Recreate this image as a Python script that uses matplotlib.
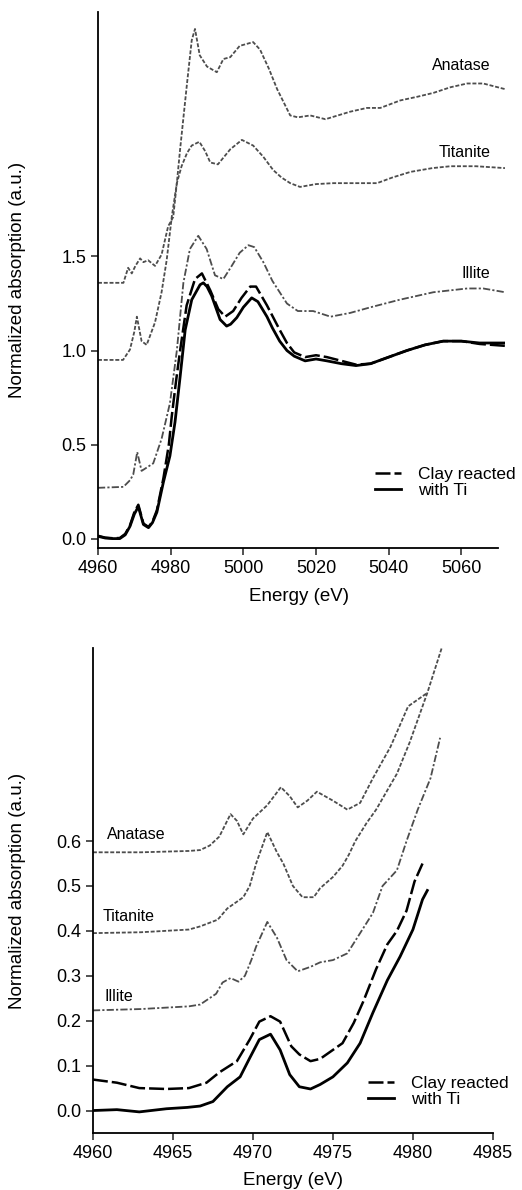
# -*- coding: utf-8 -*-
"""
Ti K-edge XANES: clay reacted with Ti vs reference minerals
(top: full range, bottom: pre-edge zoom)
"""
import matplotlib
matplotlib.use('Agg')
import matplotlib.pyplot as plt
from matplotlib.lines import Line2D

plt.rcParams['font.family'] = ['Liberation Sans', 'DejaVu Sans']

#%% datos - panel superior (rango completo)
e_ana_full = [4960, 4967, 4968.3, 4969.3, 4970.3, 4971.6, 4972.5, 4973.8, 4975.7, 4977.5,
              4979.3, 4980.7, 4981.7, 4982.6, 4984.5, 4985.8, 4986.7, 4988, 4990, 4992.7, 4994.5,
              4996.4, 4999, 5002.7, 5004.6, 5007, 5009.3, 5012.9, 5015, 5018.4, 5022.6, 5026,
              5029.4, 5034, 5037.7, 5043.2, 5048, 5052.3, 5057, 5061.6, 5066, 5072]
a_ana_full = [1.36, 1.36, 1.44, 1.41, 1.45, 1.49, 1.47, 1.48, 1.45, 1.51,
              1.66, 1.71, 1.89, 2.07, 2.42, 2.65, 2.71, 2.57, 2.51, 2.48, 2.55,
              2.56, 2.62, 2.64, 2.60, 2.50, 2.39, 2.25, 2.24, 2.25, 2.23, 2.25,
              2.27, 2.29, 2.29, 2.33, 2.35, 2.37, 2.40, 2.42, 2.42, 2.39]

e_tit_full = [4960, 4966.9, 4968.8, 4970, 4970.7, 4971.3, 4972, 4973.4, 4975.7, 4977.5, 4978.9,
              4980.3, 4981.7, 4983, 4984.5, 4985.8, 4987.9, 4989.5, 4990.9, 4993, 4996.4, 4999.6,
              5002.7, 5005.5, 5008.2, 5010.5, 5012.9, 5015.6, 5020, 5024.8, 5030, 5036.8,
              5041, 5046, 5052, 5057, 5064, 5072]
a_tit_full = [0.95, 0.95, 1.005, 1.10, 1.18, 1.12, 1.05, 1.03, 1.15, 1.31, 1.48,
              1.71, 1.89, 1.98, 2.05, 2.09, 2.11, 2.06, 2.00, 1.99, 2.07, 2.12,
              2.09, 2.03, 1.96, 1.92, 1.89, 1.87, 1.885, 1.89, 1.89, 1.89,
              1.92, 1.95, 1.97, 1.98, 1.98, 1.97]

e_ill_full = [4960, 4967, 4968.8, 4969.7, 4970.8, 4972, 4975.2, 4977.5, 4979.8, 4981.7, 4983.5,
              4985.3, 4987.6, 4989.9, 4992.2, 4994.5, 4996.8, 4999, 5001.4, 5003, 5005.5,
              5008, 5010, 5012, 5015, 5019.2, 5024, 5029.4, 5035, 5043, 5052.3, 5061.6,
              5066, 5072]
a_ill_full = [0.27, 0.275, 0.31, 0.34, 0.46, 0.36, 0.40, 0.53, 0.72, 1.00, 1.36,
              1.54, 1.61, 1.54, 1.40, 1.38, 1.45, 1.52, 1.56, 1.55, 1.47,
              1.37, 1.31, 1.25, 1.21, 1.21, 1.18, 1.20, 1.23, 1.27, 1.31, 1.33,
              1.33, 1.31]

e_clay_dash_full = [4960, 4962, 4964, 4966, 4967.5, 4968.8, 4970, 4971.1, 4972.5, 4973.9, 4975,
                    4976.2, 4978, 4979.5, 4980.3, 4981.5, 4982.6, 4984.4, 4986.7, 4988.6, 4990.9,
                    4993.1, 4995, 4997.2, 4999.5, 5001.9, 5003.5, 5006.5, 5010, 5012, 5014,
                    5017, 5020, 5023, 5027, 5031, 5035, 5040, 5045, 5050, 5055, 5060, 5065, 5072]
a_clay_dash_full = [0.015, 0.005, 0.002, 0.003, 0.025, 0.07, 0.14, 0.18, 0.08, 0.062, 0.09,
                    0.15, 0.32, 0.50, 0.65, 0.84, 1.0, 1.24, 1.38, 1.41, 1.32,
                    1.22, 1.18, 1.21, 1.28, 1.34, 1.34, 1.24, 1.11, 1.04, 0.99,
                    0.965, 0.975, 0.965, 0.945, 0.925, 0.93, 0.965, 1.0, 1.03, 1.05, 1.05, 1.035, 1.025]

e_clay_solid_full = [4960, 4962, 4964, 4966, 4967.5, 4968.8, 4970, 4971.1, 4972.5, 4973.9, 4975,
                     4976.2, 4978, 4979.8, 4981.2, 4982.6, 4984, 4985.8, 4988.1, 4989, 4990,
                     4991.3, 4993.6, 4995.4, 4996.5, 4998.2, 5000, 5002.3, 5004, 5006.5, 5008,
                     5010, 5012, 5014, 5017, 5020, 5023, 5027, 5031, 5035, 5040, 5045, 5050,
                     5055, 5060, 5065, 5072]
a_clay_solid_full = [0.012, 0.003, 0.0, 0.0, 0.02, 0.065, 0.13, 0.17, 0.075, 0.058, 0.085,
                     0.14, 0.30, 0.44, 0.62, 0.86, 1.11, 1.27, 1.35, 1.36, 1.34,
                     1.29, 1.165, 1.13, 1.14, 1.175, 1.23, 1.28, 1.26, 1.18, 1.12,
                     1.05, 1.0, 0.97, 0.945, 0.955, 0.945, 0.93, 0.92, 0.93, 0.965, 1.0, 1.03,
                     1.05, 1.05, 1.04, 1.04]

#%% datos - panel inferior (pre-borde)
e_ana_pre = [4960, 4963, 4966, 4966.7, 4967.3, 4967.9, 4968.6, 4969.0, 4969.4, 4970, 4970.9,
             4971.75, 4972.3, 4972.8, 4973.4, 4974, 4975, 4975.9, 4976.7, 4977.5, 4978.6,
             4979.7, 4980.9]
a_ana_pre = [0.575, 0.575, 0.578, 0.58, 0.59, 0.61, 0.66, 0.645, 0.615, 0.65, 0.68,
             0.72, 0.70, 0.675, 0.69, 0.71, 0.69, 0.67, 0.685, 0.74, 0.81,
             0.90, 0.93]

e_tit_pre = [4960, 4963, 4966, 4966.7, 4967.8, 4968.4, 4969.4, 4969.8, 4970.2, 4970.9, 4971.5,
             4971.9, 4972.5, 4973.1, 4973.8, 4974.2, 4975, 4975.6, 4976, 4976.4, 4977.1,
             4977.7, 4979, 4979.8, 4980.9, 4981.8]
a_tit_pre = [0.395, 0.397, 0.403, 0.41, 0.425, 0.45, 0.475, 0.50, 0.55, 0.62, 0.575,
             0.55, 0.50, 0.475, 0.475, 0.495, 0.52, 0.545, 0.57, 0.60, 0.64,
             0.67, 0.75, 0.82, 0.93, 1.03]

e_ill_pre = [4960, 4963, 4966, 4966.7, 4967.7, 4968.1, 4968.6, 4969.1, 4969.5, 4969.9, 4970.2,
             4970.9, 4971.5, 4972.1, 4972.8, 4973.6, 4974.2, 4975, 4975.9, 4976.7, 4977.5,
             4978.1, 4979, 4979.6, 4980.3, 4981.1, 4981.7]
a_ill_pre = [0.223, 0.226, 0.232, 0.236, 0.26, 0.285, 0.295, 0.287, 0.30, 0.335, 0.365,
             0.42, 0.385, 0.335, 0.31, 0.32, 0.33, 0.335, 0.35, 0.395, 0.44,
             0.50, 0.535, 0.60, 0.67, 0.74, 0.83]

e_clay_dash_pre = [4960, 4961.5, 4962.9, 4964.6, 4966, 4967.1, 4967.9, 4969, 4969.8, 4970.4,
                   4971.1, 4971.7, 4972.4, 4972.9, 4973.6, 4974.2, 4975, 4975.6, 4976.3,
                   4976.9, 4977.7, 4978.4, 4979, 4979.6, 4980.1, 4980.6]
a_clay_dash_pre = [0.069, 0.062, 0.05, 0.048, 0.05, 0.062, 0.085, 0.11, 0.158, 0.198,
                   0.21, 0.198, 0.143, 0.125, 0.11, 0.115, 0.135, 0.15, 0.195,
                   0.243, 0.315, 0.37, 0.40, 0.445, 0.51, 0.55]

e_clay_solid_pre = [4960, 4961.5, 4962.9, 4964.6, 4965.9, 4966.7, 4967.5, 4968.4, 4969.2,
                    4969.8, 4970.4, 4971.1, 4971.7, 4972.3, 4972.9, 4973.6, 4974.2, 4975,
                    4975.9, 4976.7, 4977.5, 4978.4, 4979.2, 4980, 4980.6, 4980.9]
a_clay_solid_pre = [0.0, 0.002, -0.003, 0.004, 0.007, 0.01, 0.02, 0.053, 0.075,
                    0.117, 0.158, 0.17, 0.135, 0.08, 0.053, 0.048, 0.058, 0.075,
                    0.106, 0.15, 0.218, 0.29, 0.343, 0.403, 0.47, 0.49]

leg_labels = ['Clay reacted', 'with Ti']

#%% estilos
gris = '#4d4d4d'
st_ref = dict(color=gris, lw=1.3, dashes=(2.2, 1.0))            #Anatase / Titanite
st_ill = dict(color=gris, lw=1.3, dashes=(4, 1.2, 1.2, 1.2))    #Illite
st_dash = dict(color='black', lw=1.8, dashes=(6, 1.6))         #Clay reacted (discontinua)
st_solid = dict(color='black', lw=2.0)                         #with Ti (continua)

fs_tick = 13
fs_lab = 13.5
fs_txt = 11.5


def estilo_ejes(ax):
    ax.spines['top'].set_visible(False)
    ax.spines['right'].set_visible(False)
    ax.spines['left'].set_linewidth(1.3)
    ax.spines['bottom'].set_linewidth(1.3)
    ax.tick_params(direction='out', length=5, width=1.1, labelsize=fs_tick, color='#222222')


def leyenda(ax, x, y):
    h = [Line2D([], [], **st_dash), Line2D([], [], **st_solid)]
    ax.legend(h, leg_labels, loc='upper left', bbox_to_anchor=(x, y), frameon=False,
              fontsize=12.5, handlelength=1.5, handletextpad=1.0, labelspacing=0.05,
              borderpad=0, borderaxespad=0)


fig = plt.figure(figsize=(5.22, 11.9), dpi=100)

#%% panel superior
ax1 = fig.add_axes([0.1877, 0.5395, 0.7797, 0.4504])
ax1.plot(e_ana_full, a_ana_full, **st_ref)
ax1.plot(e_tit_full, a_tit_full, **st_ref)
ax1.plot(e_ill_full, a_ill_full, **st_ill)
ax1.plot(e_clay_dash_full, a_clay_dash_full, **st_dash)
ax1.plot(e_clay_solid_full, a_clay_solid_full, **st_solid)

ax1.set_xlim(4960, 5072)
ax1.set_ylim(-0.05, 2.8)
ax1.set_xticks([4960, 4980, 5000, 5020, 5040, 5060])
ax1.set_yticks([0.0, 0.5, 1.0, 1.5])
ax1.set_yticklabels(['0.0', '0.5', '1.0', '1.5'])
estilo_ejes(ax1)
ax1.spines['bottom'].set_bounds(4960, 5070)

ax1.text(5068, 2.516, 'Anatase', ha='right', va='center', fontsize=fs_txt)
ax1.text(5068, 2.053, 'Titanite', ha='right', va='center', fontsize=fs_txt)
ax1.text(5068, 1.41, 'Illite', ha='right', va='center', fontsize=fs_txt)

ax1.set_xlabel('Energy (eV)', fontsize=fs_lab)
ax1.set_ylabel('Normalized absorption (a.u.)', fontsize=fs_lab)
ax1.xaxis.set_label_coords(0.493, -0.075)
ax1.yaxis.set_label_coords(-0.177, 0.5)
leyenda(ax1, 0.68, 0.151)

#%% panel inferior
ax2 = fig.add_axes([0.178, 0.0479, 0.7663, 0.4076])
ax2.plot(e_ana_pre, a_ana_pre, **st_ref)
ax2.plot(e_tit_pre, a_tit_pre, **st_ref)
ax2.plot(e_ill_pre, a_ill_pre, **st_ill)
ax2.plot(e_clay_dash_pre, a_clay_dash_pre, **st_dash)
ax2.plot(e_clay_solid_pre, a_clay_solid_pre, **st_solid)

ax2.set_xlim(4960, 4985)
ax2.set_ylim(-0.05, 1.03)
ax2.set_xticks([4960, 4965, 4970, 4975, 4980, 4985])
ax2.set_yticks([0.0, 0.1, 0.2, 0.3, 0.4, 0.5, 0.6])
ax2.set_yticklabels(['0.0', '0.1', '0.2', '0.3', '0.4', '0.5', '0.6'])
estilo_ejes(ax2)

ax2.text(4960.9, 0.615, 'Anatase', ha='left', va='center', fontsize=fs_txt)
ax2.text(4960.6, 0.432, 'Titanite', ha='left', va='center', fontsize=fs_txt)
ax2.text(4960.75, 0.254, 'Illite', ha='left', va='center', fontsize=fs_txt)

ax2.set_xlabel('Energy (eV)', fontsize=fs_lab)
ax2.set_ylabel('Normalized absorption (a.u.)', fontsize=fs_lab)
ax2.xaxis.set_label_coords(0.5, -0.08)
ax2.yaxis.set_label_coords(-0.1675, 0.5)
leyenda(ax2, 0.6875, 0.1175)

fig.savefig('out.png', dpi=100)
